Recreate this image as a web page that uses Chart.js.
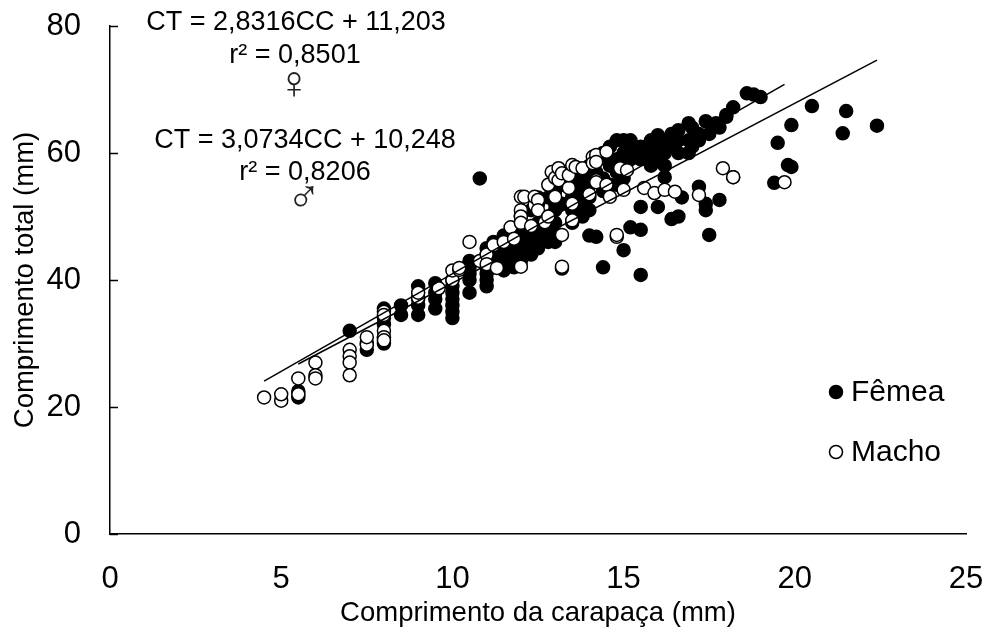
<!DOCTYPE html>
<html>
<head>
<meta charset="utf-8">
<script src="https://cdn.jsdelivr.net/npm/chart.js@4/dist/chart.umd.min.js"></script>
<style>
  body { margin: 0; background: #fff; }
  #box { width: 989px; height: 635px; }
</style>
</head>
<body>
<div id="box"><canvas id="grafico"></canvas></div>
<script>
// dados: [CC, CT]
const femea = [
  [5.5,21.5],[5.5,22.5],[7,32],[7.5,29],[7.5,30],
  [8,35.5],[8,34],[8,33],[8,31],[8,30],[8.5,36],[8.5,34.5],
  [9,39],[9,37],[9,36],[9,34.5],[9.5,39.5],[9.5,38],[9.5,37],[9.5,35.5],
  [10,40],[10,39],[10,38],[10,37],[10,36],[10,35],[10,34],
  [10.5,43],[10.5,42],[10.5,41],[10.5,40],[10.5,38],[10.8,56],
  [11,45],[11,44],[11,43],[11,42],[11,41],[11,40],[11,39],
  [11.2,46],[11.2,44],[11.2,42],[11.5,47],[11.5,45],[11.5,43],[11.5,41.5],
  [11.8,48],[11.8,46],[11.8,44],[11.8,42],
  [12,50],[12,49],[12,47],[12,45],[12,43],[12.3,51],[12.3,48],[12.3,46],[12.3,44],
  [12.5,53],[12.5,52],[12.5,49],[12.5,47],[12.5,45],[12.8,53],[12.8,50],[12.8,48],[12.8,46],
  [13,54],[13,52],[13,51],[13,49],[13,47],[13,46],[13.2,55],[13.2,52],[13.2,41.8],
  [13.5,56],[13.5,54],[13.5,53],[13.5,51],[13.5,49],[13.8,57],[13.8,55],[13.8,54],[13.8,52],[13.8,50],
  [14,58],[14,56],[14,55],[14,53],[14,51],[14,47],[14.2,59],[14.2,57],[14.2,46.8],
  [14.4,60],[14.4,56],[14.4,54],[14.4,42],[14.6,61],[14.6,59],[14.6,58],[14.6,55],
  [14.8,62],[14.8,59],[14.8,57],[14.8,55],[15,62],[15,60],[15,58],[15,56],[15,44.7],
  [15.2,62],[15.2,61],[15.2,59],[15.2,48.3],
  [15.5,61],[15.5,60],[15.5,59],[15.5,51.5],[15.5,47.9],[15.5,40.8],
  [15.8,62],[15.8,60],[15.8,58],[16,62.8],[16,61],[16,59],[16,51.5],
  [16.2,62],[16.2,60],[16.2,58],[16.2,56.2],[16.4,63],[16.4,61],[16.4,49.6],
  [16.6,63.6],[16.6,62],[16.6,60],[16.6,50],[16.7,53],
  [16.9,64.7],[16.9,62],[16.9,60],[17,64],[17,61],[17.2,63],[17.2,62],[17.2,54.7],
  [17.4,65],[17.4,52],[17.4,51],[17.5,63],[17.5,47.1],[17.7,64.7],[17.8,64],[17.8,52.6],
  [18,66],[18,65.7],[18.2,67.2],[18.2,56.2],[18.6,69.4],[18.8,69.2],[19,68.8],
  [19.4,55.3],[19.5,61.6],[19.8,58.1],[19.9,57.8],[19.9,64.4],
  [20.5,67.4],[21.4,63.1],[21.5,66.6],[22.4,64.3]
];

const macho = [
  [4.5,21.5],[5,21],[5,22],[5.5,24.5],[5.5,22],[6,27],[6,25],[6,24.5],
  [7,29],[7,28],[7,27],[7,25],[7.5,29.8],[7.5,31],
  [8,35],[8,34.5],[8,32],[8,31],[8,30.5],[9,37.2],[9,38],[9.6,38.7],
  [10,40],[10,41.5],[10.2,41.6],[10.2,41.9],[10.5,46],[10.8,43],[11,44],[11,42.5],
  [11.2,45.5],[11.3,41.9],[11.5,46],[11.7,48.3],[11.8,46.5],
  [12,42.1],[12,51],[12,53.1],[12,50],[12,49],[12.1,53.1],[12.3,48.5],[12.4,51.8],[12.4,53.1],
  [12.5,52.6],[12.5,51],[12.7,49.1],[12.8,55],[12.8,50],[12.9,57],
  [13,56.1],[13,53.1],[13.1,57.6],[13.1,55.7],[13.2,42.1],[13.2,47.1],[13.2,56.8],
  [13.4,54.5],[13.4,56.5],[13.5,58.1],[13.5,49.4],[13.5,52],[13.6,57.8],[13.8,57.6],
  [14,53.5],[14.1,59.4],[14.1,58.4],[14.2,59.7],[14.2,58.6],[14.2,55.7],[14.2,55.4],
  [14.5,60.2],[14.5,55],[14.6,53.1],[14.8,46.8],[14.8,47.1],
  [14.9,57.6],[15,54.2],[15.1,57.3],[15.6,54.5],[15.9,53.7],
  [16.2,54.2],[16.5,53.9],[17.2,53.4],[17.9,57.6],[18.2,56.2],[19.7,55.4]
];

// linhas de tendência: CT = a*CC + b
const tendFemea = { a: 2.8316, b: 11.203, r2: "0,8501" };
const tendMacho = { a: 3.0734, b: 10.248, r2: "0,8206" };

const nomes = ["Fêmea", "Macho"];
const tituloX = "Comprimento da carapaça (mm)";
const tituloY = "Comprimento total (mm)";

const FONTE = '"Liberation Sans", Arial, sans-serif';
Chart.defaults.font.family = FONTE;
Chart.defaults.color = "#000";

const pontos = arr => arr.map(p => ({ x: p[0], y: p[1] }));
function linha(arr, t) {
  const xs = arr.map(p => p[0]);
  const x0 = Math.min(...xs), x1 = Math.max(...xs);
  return [{ x: x0, y: t.a * x0 + t.b }, { x: x1, y: t.a * x1 + t.b }];
}

// marcas internas do eixo Y + legenda + equações
const extras = {
  id: "extras",
  afterDraw(chart) {
    const ctx = chart.ctx;
    const { y } = chart.scales;
    const area = chart.chartArea;
    ctx.save();
    ctx.strokeStyle = "#000";
    ctx.lineWidth = 1.5;
    y.ticks.forEach(t => {
      const py = Math.round(y.getPixelForValue(t.value)) + 0.5;
      ctx.beginPath();
      ctx.moveTo(area.left, py);
      ctx.lineTo(area.left + 8, py);
      ctx.stroke();
    });

    // legenda
    const leg = [
      { nome: nomes[0], fill: "#000", py: 392 },
      { nome: nomes[1], fill: "#fff", py: 452 }
    ];
    ctx.font = "30px " + FONTE;
    ctx.textBaseline = "middle";
    ctx.textAlign = "left";
    leg.forEach(l => {
      ctx.beginPath();
      ctx.arc(836, l.py, 6.5, 0, Math.PI * 2);
      ctx.fillStyle = l.fill;
      ctx.fill();
      ctx.stroke();
      ctx.fillStyle = "#000";
      ctx.fillText(l.nome, 851, l.py + 1);
    });

    // equações
    ctx.textAlign = "center";
    ctx.font = "27px " + FONTE;
    const eqs = [
      ["CT = 2,8316CC + 11,203", 296, 23],
      ["r² = " + tendFemea.r2, 295, 56],
      ["CT = 3,0734CC + 10,248", 305, 141],
      ["r² = " + tendMacho.r2, 305, 173]
    ];
    eqs.forEach(e => ctx.fillText(e[0], e[1], e[2]));
    ctx.font = "200 46px 'DejaVu Sans', sans-serif";
    ctx.fillStyle = "#222";
    ctx.fillText("♀", 294, 86);
    ctx.fillText("♂", 304, 200);
    ctx.restore();
  }
};

new Chart(document.getElementById("grafico"), {
  type: "scatter",
  data: {
    datasets: [
      {
        label: "tend. fêmea", type: "line", data: linha(femea, tendFemea),
        borderColor: "#000", borderWidth: 1.5, pointRadius: 0, fill: false, order: 0
      },
      {
        label: "tend. macho", type: "line", data: linha(macho, tendMacho),
        borderColor: "#000", borderWidth: 1.5, pointRadius: 0, fill: false, order: 0
      },
      {
        label: nomes[1], data: pontos(macho), order: 1,
        backgroundColor: "#fff", borderColor: "#000", borderWidth: 1.5, pointRadius: 6.5
      },
      {
        label: nomes[0], data: pontos(femea), order: 2,
        backgroundColor: "#000", borderColor: "#000", borderWidth: 1.5, pointRadius: 6.5
      }
    ]
  },
  options: {
    responsive: true,
    maintainAspectRatio: false,
    animation: false,
    layout: { padding: { top: 26, right: 23, left: 0, bottom: 0 } },
    plugins: { legend: { display: false }, tooltip: { enabled: false } },
    scales: {
      x: {
        type: "linear", min: 0, max: 25,
        ticks: { stepSize: 5, font: { size: 31 }, padding: 19 },
        grid: { display: false },
        border: { display: true, color: "#000", width: 1.5 },
        title: { display: true, text: tituloX, font: { size: 27.5 }, padding: { top: 0, bottom: 5 } },
        afterFit: s => { s.height = 101; s.paddingLeft = 0; s.paddingRight = 0; }
      },
      y: {
        min: 0, max: 80,
        ticks: { stepSize: 20, font: { size: 31 }, padding: 21 },
        grid: { display: false },
        border: { display: true, color: "#000", width: 1.5 },
        title: { display: true, text: tituloY, font: { size: 27.5 }, padding: { top: 9, bottom: 0 } },
        afterFit: s => { s.width = 110; s.paddingTop = 0; s.paddingBottom = 0; }
      }
    }
  },
  plugins: [extras]
});
</script>
</body>
</html>
